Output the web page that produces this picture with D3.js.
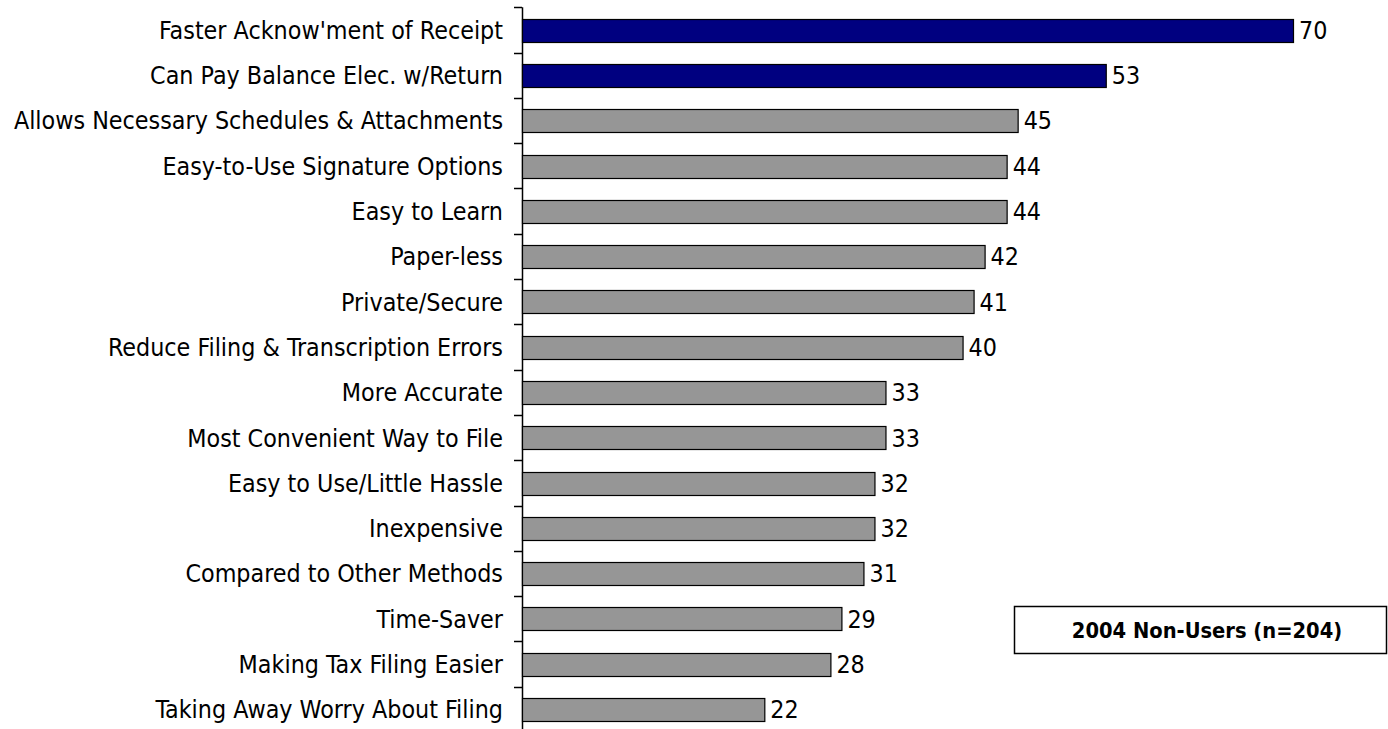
<!DOCTYPE html>
<html><head><meta charset="utf-8">
<script src="https://cdn.jsdelivr.net/npm/d3@7"></script>
<style>body{margin:0;background:#fff}svg{display:block}</style>
</head><body>
<svg id="c" width="1388" height="729"></svg>
<script>
const categories = ["Faster Acknow'ment of Receipt","Can Pay Balance Elec. w/Return","Allows Necessary Schedules & Attachments","Easy-to-Use Signature Options","Easy to Learn","Paper-less","Private/Secure","Reduce Filing & Transcription Errors","More Accurate","Most Convenient Way to File","Easy to Use/Little Hassle","Inexpensive","Compared to Other Methods","Time-Saver","Making Tax Filing Easier","Taking Away Worry About Filing"];
const values = [70,53,45,44,44,42,41,40,33,33,32,32,31,29,28,22];
const highlighted = [true,true,false,false,false,false,false,false,false,false,false,false,false,false,false,false];
const legendText = "2004 Non-Users (n=204)";

const font = "'DejaVu Sans Condensed', sans-serif";
const fs = 24.8;
const svg = d3.select("#c");
const x = d3.scaleLinear().domain([0,70]).range([522,1293]);
const y = d3.scaleBand().domain(categories).range([7.3,732]).paddingInner(0.5).paddingOuter(0.25);

const axis = d3.axisLeft(y).tickSize(0).tickPadding(19);
const g = svg.append("g").attr("transform","translate(522,0)").call(axis);
g.select(".domain").remove();
g.selectAll("text").attr("font-family",font).attr("font-size",fs).attr("fill","#000").attr("dy","0.36em");
svg.append("line").attr("x1",522.5).attr("x2",522.5).attr("y1",7.3).attr("y2",732).attr("stroke","#000").attr("stroke-width",1.5);
const step = y.step();
d3.range(categories.length+1).forEach(i=>{
  const yy = Math.round(7.3 + i*step)+0.5;
  svg.append("line").attr("x1",514).attr("x2",522).attr("y1",yy).attr("y2",yy).attr("stroke","#000").attr("stroke-width",1.5);
});

svg.selectAll("rect.bar").data(values).enter().append("rect").attr("class","bar")
  .attr("x",x(0)+0.5).attr("y",(d,i)=>Math.round(y(categories[i]))+0.5)
  .attr("width",d=>x(d)-x(0)).attr("height",Math.round(y.bandwidth()))
  .attr("fill",(d,i)=>highlighted[i]?"#000080":"#969696").attr("stroke","#000").attr("stroke-width",1.2);

svg.selectAll("text.val").data(values).enter().append("text").attr("class","val")
  .attr("x",d=>x(d)+6).attr("y",(d,i)=>y(categories[i])+y.bandwidth()/2).attr("dy","0.36em")
  .attr("font-family",font).attr("font-size",fs).text(d=>d);

svg.append("rect").attr("x",1014.5).attr("y",606.5).attr("width",372).attr("height",47).attr("fill","#fff").attr("stroke","#000").attr("stroke-width",1.5);
svg.append("text").attr("x",1207).attr("y",630).attr("dy","0.36em").attr("text-anchor","middle")
  .attr("font-family",font).attr("font-weight","bold").attr("font-size",21.7).text(legendText);
</script>
</body></html>
